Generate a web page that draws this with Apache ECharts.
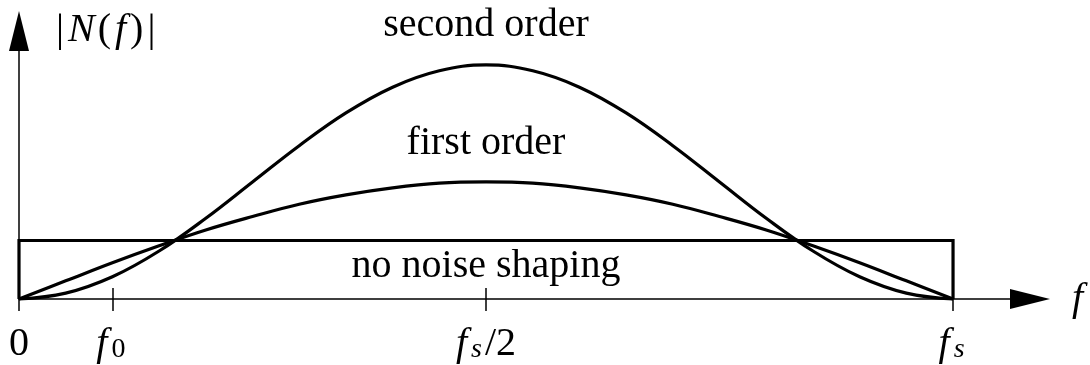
<!DOCTYPE html>
<html>
<head>
<meta charset="utf-8">
<script src="https://cdn.jsdelivr.net/npm/echarts@6/dist/echarts.min.js"></script>
<style>
  html, body { margin: 0; padding: 0; background: #fff; }
  #chart { width: 1090px; height: 365px; }
</style>
</head>
<body>
<div id="chart"></div>
<script>
// Frequency axis in units of the sampling rate fs (0 .. 1)
const freq = [0, 0.05, 0.10, 0.15, 0.20, 0.25, 0.30, 0.35, 0.40, 0.45, 0.50,
              0.55, 0.60, 0.65, 0.70, 0.75, 0.80, 0.85, 0.90, 0.95, 1.00];

// Noise magnitude |N(f)| for each shaping order
const firstOrder  = [0, 0.31, 0.62, 0.91, 1.18, 1.41, 1.62, 1.78, 1.90, 1.98, 2.00,
                     1.98, 1.90, 1.78, 1.62, 1.41, 1.18, 0.91, 0.62, 0.31, 0];
const secondOrder = [0, 0.10, 0.38, 0.82, 1.38, 2.00, 2.62, 3.18, 3.62, 3.90, 4.00,
                     3.90, 3.62, 3.18, 2.62, 2.00, 1.38, 0.82, 0.38, 0.10, 0];
const flatLevel = 1;          // no noise shaping: white noise over 0 .. fs

// Tick positions on the frequency axis and their labels
const tickValues = [0, 0.1, 0.5, 1];
const tickLabels = ['{r|0}', '{i|f}{sub|0}', '{i|f}{si|s}{r|/2}', '{i|f}{si|s}'];

const curveNames = ['second order', 'first order', 'no noise shaping'];
const axisTitle = '{tb||}{ti|N}{tr|(}{tf|f}{tr|)}{tb||}';

const FONT = '"Liberation Serif", "DejaVu Serif", serif';
const FS = 40, SUB = 28;
const base = { fontFamily: FONT, fontSize: FS, lineHeight: 44, verticalAlign: 'bottom', color: '#000' };
const small = { fontFamily: FONT, fontSize: SUB, lineHeight: 20, verticalAlign: 'bottom', color: '#000' };
const rich = {
  r:   Object.assign({}, base),
  i:   Object.assign({}, base, { fontStyle: 'italic', padding: [0, 3, 0, 0] }),
  sub: Object.assign({}, small, { padding: [0, 3, 0, 1] }),
  si:  Object.assign({}, small, { fontStyle: 'italic', padding: [0, 3, 0, 1] }),
  // vertical axis title |N(f)|
  tb:  Object.assign({}, base, { padding: [0, 4, 0, 4] }),
  ti:  Object.assign({}, base, { fontStyle: 'italic', padding: [0, 3, 0, 0] }),
  tr:  Object.assign({}, base),
  tf:  Object.assign({}, base, { fontStyle: 'italic', padding: [0, 4, 0, 4] })
};

const X_MAX = 1.0824, Y_MAX = 4.58;
const black = '#000';

const chart = echarts.init(document.getElementById('chart'), null, { renderer: 'canvas' });

const curve = vals => freq.map((f, i) => [f, vals[i]]);
const fEnd = freq[freq.length - 1];
const box = [[freq[0], 0], [freq[0], flatLevel], [fEnd, flatLevel], [fEnd, 0]];

const option = {
  animation: false,
  backgroundColor: '#fff',
  grid: { left: 19, right: 60, top: 31, bottom: 66 },
  xAxis: [
    {
      type: 'value', min: 0, max: X_MAX,
      axisLine: { show: true, lineStyle: { color: black, width: 1.5 },
                  symbol: ['none', 'triangle'], symbolSize: [20, 40] },
      axisTick: { show: true, inside: true, length: 11, customValues: tickValues,
                  lineStyle: { color: black, width: 1.5 } },
      axisLabel: { show: false },
      splitLine: { show: false },
      name: 'f', nameLocation: 'end', nameGap: 42,
      nameTextStyle: { fontFamily: FONT, fontSize: FS, fontStyle: 'italic', color: black }
    },
    {
      type: 'value', min: 0, max: X_MAX, position: 'bottom', offset: 0,
      axisLine: { show: false },
      axisTick: { show: true, inside: false, length: 12, customValues: tickValues,
                  lineStyle: { color: black, width: 1.5 } },
      axisLabel: {
        show: true, customValues: tickValues, margin: 21,
        formatter: v => tickLabels[tickValues.indexOf(v)],
        rich: rich
      },
      splitLine: { show: false }
    }
  ],
  yAxis: {
    type: 'value', min: 0, max: Y_MAX,
    axisLine: { show: true, lineStyle: { color: black, width: 1.5 },
                symbol: ['none', 'triangle'], symbolSize: [20, 40] },
    axisTick: { show: false },
    axisLabel: { show: false },
    splitLine: { show: false }
  },
  series: [
    { type: 'line', name: curveNames[0], data: curve(secondOrder), smooth: 0.4,
      showSymbol: false, clip: false, lineStyle: { color: black, width: 3.2 } },
    { type: 'line', name: curveNames[1], data: curve(firstOrder), smooth: 0.4,
      showSymbol: false, clip: false, lineStyle: { color: black, width: 3.2 } },
    { type: 'line', name: curveNames[2], data: box,
      showSymbol: false, clip: false, lineStyle: { color: black, width: 3.2, join: 'miter' } }
  ]
};

chart.setOption(option);

// Curve captions and the vertical axis title, placed through the axis scales
const at = (x, y) => chart.convertToPixel({ xAxisIndex: 0, yAxisIndex: 0 }, [x, y]);
const peak2 = at(0.5, Math.max(...secondOrder));
const peak1 = at(0.5, Math.max(...firstOrder));
const flat = at(0.5, flatLevel);
const origin = at(0, Y_MAX);

const caption = (text, p, dy) => ({
  type: 'text',
  style: { text: text, x: p[0], y: p[1] + dy, align: 'center', verticalAlign: 'middle',
           font: FS + 'px ' + FONT, fill: black }
});

chart.setOption({
  graphic: [
    caption(curveNames[0], peak2, -39),
    caption(curveNames[1], peak1, -38),
    caption(curveNames[2], flat, 26),
    {
      type: 'text',
      style: { text: axisTitle, x: origin[0] + 33, y: origin[1] - 3, align: 'left',
               verticalAlign: 'middle', rich: rich }
    }
  ]
});
</script>
</body>
</html>
